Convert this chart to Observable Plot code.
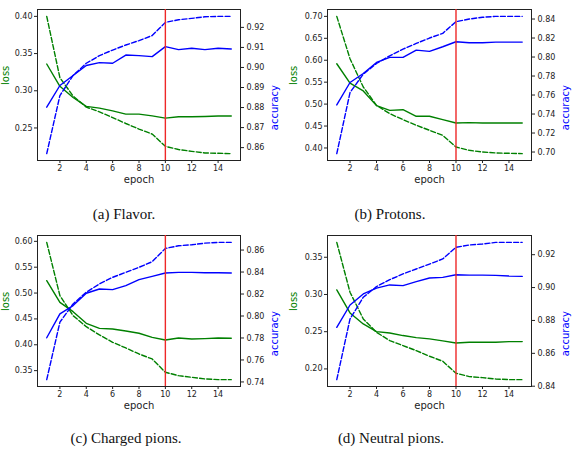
<!DOCTYPE html>
<html>
<head>
<meta charset="utf-8">
<script src="https://cdn.jsdelivr.net/npm/d3@7"></script>
<script src="https://cdn.jsdelivr.net/npm/@observablehq/plot@0.6"></script>
<style>
  html, body { margin: 0; padding: 0; background: #fff; }
  #fig { position: relative; width: 574px; height: 452px; background: #fff; overflow: hidden; }
  .panel { position: absolute; width: 287px; height: 190px; }
  .panel svg { position: absolute; left: 0; top: 0; }
  .caption { position: absolute; width: 220px; text-align: center;
             font-family: "Liberation Serif", "DejaVu Serif", serif; font-size: 15px; color: #111; }
</style>
</head>
<body>
<div id="fig"></div>
<script>
// Training epochs
const epochs = [1, 2, 3, 4, 5, 6, 7, 8, 9, 10, 11, 12, 13, 14, 15];
const bestEpoch = 10;
const epochTicks = [2, 4, 6, 8, 10, 12, 14];

// (a) Flavor
const flavorLossTrain = [0.400, 0.3175, 0.293, 0.278, 0.2717, 0.264, 0.256, 0.2485, 0.2418, 0.2253, 0.221, 0.2186, 0.2164, 0.216, 0.2155];
const flavorLossVal   = [0.336, 0.306, 0.291, 0.279, 0.2766, 0.273, 0.2686, 0.2686, 0.2663, 0.2632, 0.265, 0.265, 0.2655, 0.266, 0.266];
const flavorAccTrain  = [0.857, 0.886, 0.896, 0.9021, 0.9059, 0.9087, 0.9112, 0.9134, 0.9159, 0.9225, 0.9238, 0.9245, 0.9253, 0.9255, 0.9255];
const flavorAccVal    = [0.8802, 0.891, 0.896, 0.901, 0.9024, 0.9021, 0.9062, 0.9059, 0.9054, 0.9104, 0.9089, 0.9096, 0.9089, 0.9096, 0.9092];
const flavorLossTicks = [0.25, 0.30, 0.35, 0.40];
const flavorAccTicks  = [0.86, 0.87, 0.88, 0.89, 0.90, 0.91, 0.92];

// (b) Protons
const protonLossTrain = [0.700, 0.6035, 0.539, 0.4972, 0.4782, 0.4646, 0.4517, 0.4403, 0.4288, 0.4023, 0.3947, 0.3909, 0.3886, 0.3879, 0.3871];
const protonLossVal   = [0.592, 0.548, 0.530, 0.4965, 0.4858, 0.4873, 0.4722, 0.4722, 0.4646, 0.457, 0.4577, 0.457, 0.457, 0.457, 0.457];
const protonAccTrain  = [0.6983, 0.7626, 0.782, 0.7932, 0.8013, 0.8083, 0.8143, 0.820, 0.8249, 0.8372, 0.840, 0.8418, 0.8428, 0.8428, 0.8428];
const protonAccVal    = [0.7496, 0.7732, 0.7827, 0.7943, 0.7996, 0.7996, 0.8073, 0.8059, 0.8108, 0.8161, 0.815, 0.815, 0.8157, 0.8157, 0.8157];
const protonLossTicks = [0.40, 0.45, 0.50, 0.55, 0.60, 0.65, 0.70];
const protonAccTicks  = [0.70, 0.72, 0.74, 0.76, 0.78, 0.80, 0.82, 0.84];

// (c) Charged pions
const chargedLossTrain = [0.598, 0.495, 0.4563, 0.435, 0.419, 0.4048, 0.3938, 0.3822, 0.3726, 0.3468, 0.3403, 0.3371, 0.3339, 0.3326, 0.3326];
const chargedLossVal   = [0.524, 0.482, 0.464, 0.4415, 0.4318, 0.4305, 0.4267, 0.4222, 0.4144, 0.4093, 0.4131, 0.4112, 0.4119, 0.4131, 0.4125];
const chargedAccTrain  = [0.7421, 0.7944, 0.811, 0.8216, 0.8292, 0.8352, 0.8397, 0.8443, 0.8494, 0.8615, 0.8639, 0.8648, 0.8663, 0.867, 0.867];
const chargedAccVal    = [0.7802, 0.802, 0.8095, 0.8207, 0.8246, 0.824, 0.8277, 0.8331, 0.8361, 0.8391, 0.8397, 0.8397, 0.8394, 0.8394, 0.8391];
const chargedLossTicks = [0.35, 0.40, 0.45, 0.50, 0.55, 0.60];
const chargedAccTicks  = [0.74, 0.76, 0.78, 0.80, 0.82, 0.84, 0.86];

// (d) Neutral pions
const neutralLossTrain = [0.370, 0.303, 0.2672, 0.2492, 0.238, 0.2313, 0.2246, 0.217, 0.2103, 0.1942, 0.1897, 0.1883, 0.1865, 0.1856, 0.1856];
const neutralLossVal   = [0.3061, 0.2752, 0.2604, 0.2501, 0.2483, 0.2448, 0.2421, 0.2403, 0.2376, 0.2349, 0.2358, 0.2358, 0.2358, 0.2367, 0.2367];
const neutralAccTrain  = [0.844, 0.8809, 0.8941, 0.9006, 0.9048, 0.9083, 0.9113, 0.9143, 0.9174, 0.9245, 0.9259, 0.9265, 0.9275, 0.9275, 0.9275];
const neutralAccVal    = [0.8758, 0.8894, 0.8961, 0.8997, 0.9016, 0.9012, 0.9036, 0.9058, 0.9062, 0.9078, 0.9076, 0.9076, 0.9074, 0.907, 0.9068];
const neutralLossTicks = [0.20, 0.25, 0.30, 0.35];
const neutralAccTicks  = [0.84, 0.86, 0.88, 0.90, 0.92];

const panels = [
  {caption: "(a) Flavor.", left: 0, top: 0, ml: 37, mr: 47, lossDx: -32, capX: 124, capY: 206,
   lossTrain: flavorLossTrain, lossVal: flavorLossVal, accTrain: flavorAccTrain, accVal: flavorAccVal,
   lossTicks: flavorLossTicks, accTicks: flavorAccTicks},
  {caption: "(b) Protons.", left: 287, top: 0, ml: 40, mr: 43, lossDx: -34, capX: 390, capY: 206,
   lossTrain: protonLossTrain, lossVal: protonLossVal, accTrain: protonAccTrain, accVal: protonAccVal,
   lossTicks: protonLossTicks, accTicks: protonAccTicks},
  {caption: "(c) Charged pions.", left: 0, top: 226, ml: 37, mr: 47, lossDx: -32, capX: 126, capY: 430,
   lossTrain: chargedLossTrain, lossVal: chargedLossVal, accTrain: chargedAccTrain, accVal: chargedAccVal,
   lossTicks: chargedLossTicks, accTicks: chargedAccTicks},
  {caption: "(d) Neutral pions.", left: 287, top: 226, ml: 40, mr: 43, lossDx: -34, capX: 391, capY: 430,
   lossTrain: neutralLossTrain, lossVal: neutralLossVal, accTrain: neutralAccTrain, accVal: neutralAccVal,
   lossTicks: neutralLossTicks, accTicks: neutralAccTicks}
];

const W = 287, H = 190, MT = 9, MB = 30;
const lossColor = "green", accColor = "blue", ink = "#222";
const dash = "5,2.2";
const lw = 1.4;

// autoscale with 5% padding on both ends
function padded(...series) {
  const all = series.flat();
  const [lo, hi] = d3.extent(all);
  const m = (hi - lo) * 0.05;
  return [lo - m, hi + m];
}
const xDomain = padded(epochs);

const fig = document.getElementById("fig");

for (const p of panels) {
  const box = document.createElement("div");
  box.className = "panel";
  box.style.left = p.left + "px";
  box.style.top = p.top + "px";
  fig.appendChild(box);

  const common = {
    width: W, height: H,
    marginLeft: p.ml, marginRight: p.mr, marginTop: MT, marginBottom: MB,
    style: {fontFamily: "DejaVu Sans", fontSize: "8px", background: "transparent", color: ink, overflow: "visible"}
  };

  // Loss layer: frame, epoch axis, left loss axis
  const lossPlot = Plot.plot({
    ...common,
    x: {domain: xDomain},
    y: {domain: padded(p.lossTrain, p.lossVal)},
    marks: [
      Plot.frame({stroke: ink, strokeWidth: 1}),
      Plot.axisX({ticks: epochTicks, tickSize: 3, tickPadding: 2, label: null, stroke: ink, fill: ink}),
      Plot.axisY({anchor: "left", ticks: p.lossTicks, tickFormat: ".2f", tickSize: 3, tickPadding: 2, label: null, stroke: ink, fill: ink}),
      Plot.text(["epoch"], {frameAnchor: "bottom", dy: 22, fontSize: 10, fill: ink}),
      Plot.text(["loss"], {frameAnchor: "left", dx: p.lossDx, rotate: -90, fontSize: 10, fill: lossColor}),
      Plot.lineY(p.lossVal, {x: epochs, stroke: lossColor, strokeWidth: lw}),
      Plot.lineY(p.lossTrain, {x: epochs, stroke: lossColor, strokeWidth: lw, strokeDasharray: dash})
    ]
  });

  // Accuracy layer: right axis, accuracy curves, best-epoch marker
  const accPlot = Plot.plot({
    ...common,
    x: {domain: xDomain, axis: null},
    y: {domain: padded(p.accTrain, p.accVal)},
    marks: [
      Plot.axisY({anchor: "right", ticks: p.accTicks, tickFormat: ".2f", tickSize: 3, tickPadding: 3, label: null, stroke: ink, fill: ink}),
      Plot.text(["accuracy"], {frameAnchor: "right", dx: 34, rotate: -90, fontSize: 10, fill: accColor}),
      Plot.lineY(p.accVal, {x: epochs, stroke: accColor, strokeWidth: lw}),
      Plot.lineY(p.accTrain, {x: epochs, stroke: accColor, strokeWidth: lw, strokeDasharray: dash}),
      Plot.ruleX([bestEpoch], {stroke: "#ee2828", strokeWidth: 1.4})
    ]
  });

  box.appendChild(lossPlot);
  box.appendChild(accPlot);

  const cap = document.createElement("div");
  cap.className = "caption";
  cap.textContent = p.caption;
  cap.style.left = (p.capX - 110) + "px";
  cap.style.top = p.capY + "px";
  fig.appendChild(cap);
}
</script>
</body>
</html>
